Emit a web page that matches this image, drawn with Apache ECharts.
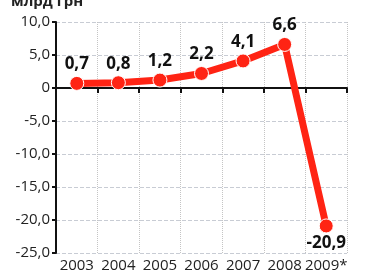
<!DOCTYPE html>
<html>
<head>
<meta charset="utf-8">
<script src="https://cdn.jsdelivr.net/npm/echarts@6/dist/echarts.min.js"></script>
<style>
  html, body { margin: 0; padding: 0; background: #fff; }
  #main { width: 368px; height: 278px; }
</style>
</head>
<body>
<div id="main"></div>
<script>
const years = ["2003", "2004", "2005", "2006", "2007", "2008", "2009*"];
const values = [0.7, 0.8, 1.2, 2.2, 4.1, 6.6, -20.9];
const yTicks = [-25, -20, -15, -10, -5, 0, 5, 10];

const fmt = v => (v === 0 ? "0" : v.toFixed(1).replace(".", ","));

const chart = echarts.init(document.getElementById("main"));
const option = {
  animation: false,
  textStyle: { fontFamily: "Open Sans" },
  title: {
    text: "млрд грн",
    left: 6,
    top: -11,
    textStyle: { fontSize: 15, fontWeight: "bold", color: "#222" }
  },
  grid: { left: 56, right: 21, top: 22, bottom: 25 },
  xAxis: {
    type: "category",
    data: years,
    boundaryGap: true,
    axisLine: { lineStyle: { color: "#111", width: 2 } },
    axisTick: { show: true, interval: 0, length: 5, lineStyle: { color: "#111", width: 2 } },
    axisLabel: { color: "#222", fontSize: 15, margin: 5, interval: 0 },
    splitLine: { show: true, interval: 0, lineStyle: { color: "#c4c4c4", type: "dotted", width: 1 } }
  },
  yAxis: {
    type: "value",
    min: yTicks[0],
    max: yTicks[yTicks.length - 1],
    interval: 5,
    axisLine: { show: true, lineStyle: { color: "#111", width: 2 } },
    axisTick: { show: true, length: 4, lineStyle: { color: "#111", width: 2 } },
    axisLabel: { color: "#222", fontSize: 15, margin: 6, formatter: fmt },
    splitLine: { show: true, lineStyle: { color: "#c8ccd4", type: "dashed", width: 1 } }
  },
  series: [{
    type: "line",
    data: values,
    symbol: "circle",
    symbolSize: 14,
    lineStyle: { color: "#ff2414", width: 7 },
    itemStyle: { color: "#ff2414", borderColor: "#fff", borderWidth: 1 },
    label: {
      show: true,
      position: "top",
      distance: 3,
      color: "#111",
      fontSize: 17,
      fontWeight: "bold",
      formatter: p => fmt(p.value)
    },
    labelLayout: p => (p.dataIndex === 6 ? { dy: 36 } : {}),
    markArea: {
      silent: true,
      itemStyle: { color: "rgba(220,230,242,0.5)" },
      data: [[{ xAxis: "2009*" }, { xAxis: "2009*" }]]
    },
    z: 5
  }]
};
chart.setOption(option);
</script>
</body>
</html>
